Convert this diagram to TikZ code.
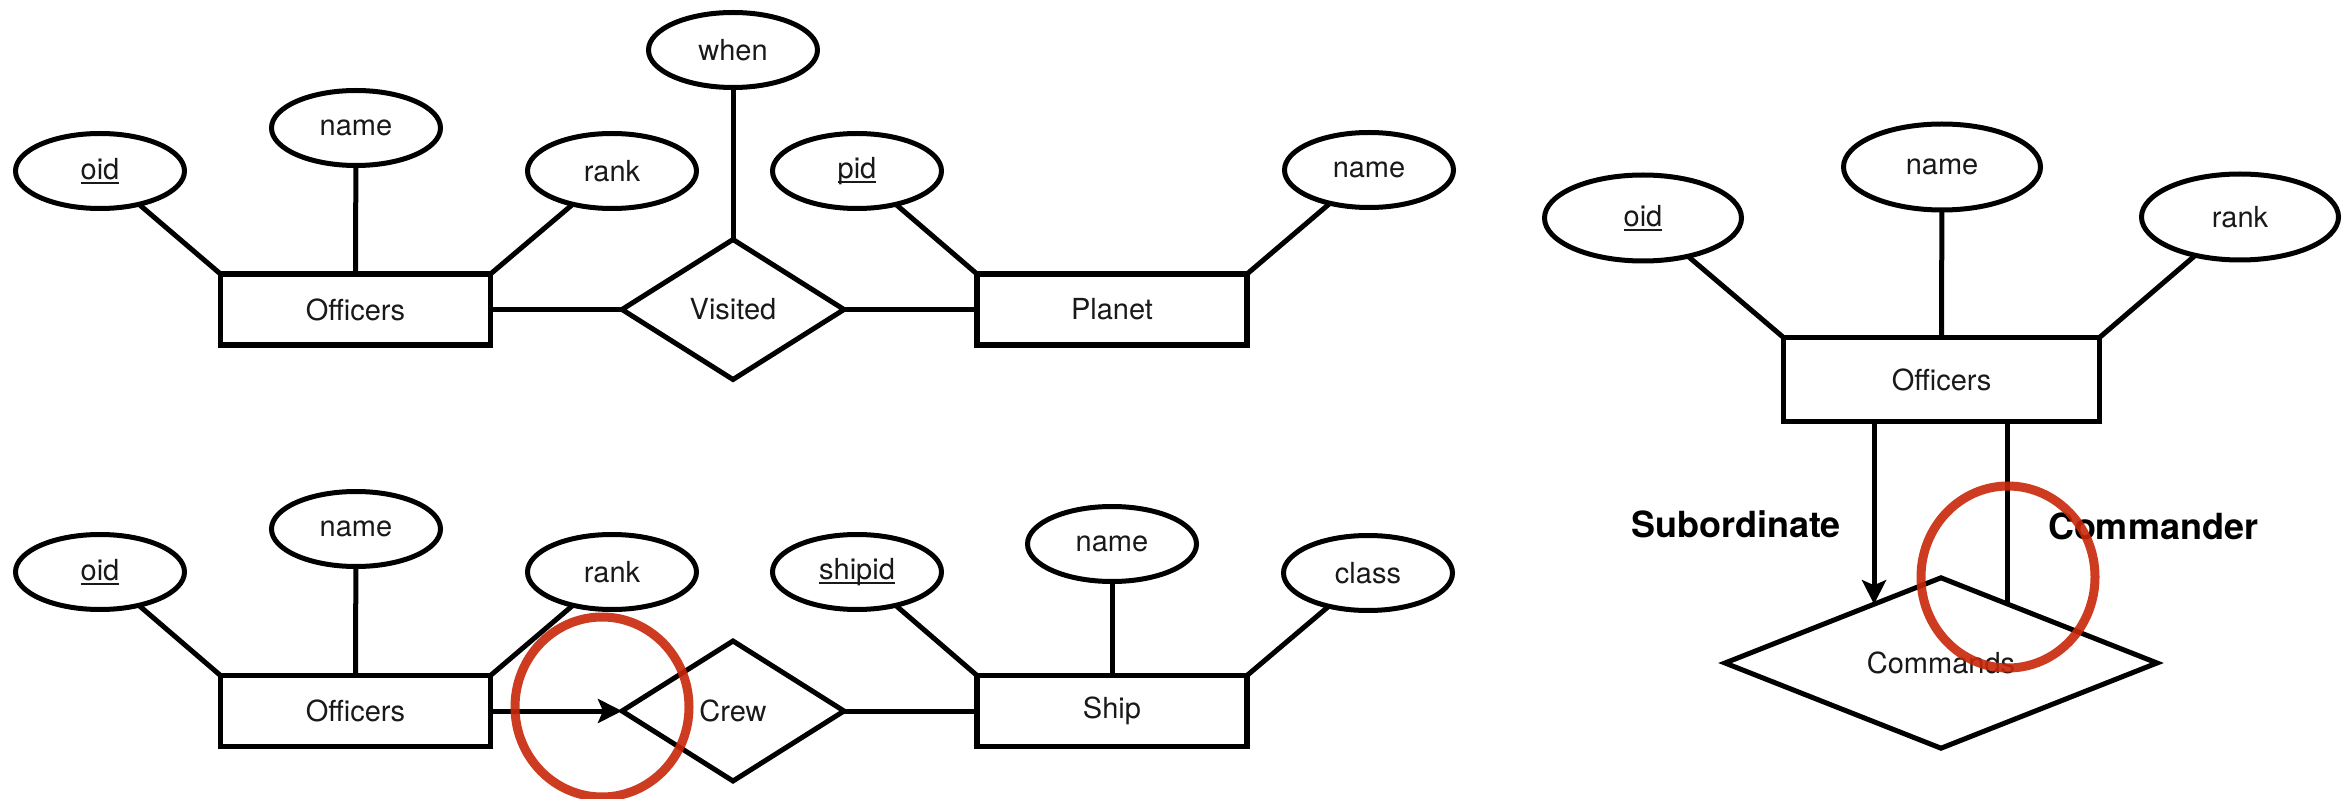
\documentclass[tikz,border=0pt]{standalone}
\usepackage{fontspec}
\setmainfont{TeX Gyre Heros}
\usetikzlibrary{shapes.geometric,arrows.meta,calc}
\definecolor{redcirc}{RGB}{200,38,8}
\newcommand\erfont{\fontsize{29}{34}\selectfont}
\newcommand\erlabelfont{\fontsize{36}{42}\selectfont\bfseries}
\newcommand\keyattr[1]{\setbox0\hbox{#1}\rlap{\rule[-5pt]{\wd0}{2pt}}\box0}
\begin{document}
\begin{tikzpicture}[x=1pt,y=-1pt,
  attr/.style={ellipse,draw,line width=5pt,minimum width=169pt,minimum height=75pt,inner sep=0pt,outer sep=0pt,font=\erfont,text=black!90},
  bigattr/.style={attr,minimum width=197pt,minimum height=86pt},
  entity/.style={rectangle,draw,line width=5.5pt,minimum width=270pt,minimum height=71pt,inner sep=0pt,outer sep=0pt,font=\erfont,text=black!90},
  bigentity/.style={entity,minimum width=316pt,minimum height=84pt},
  rel/.style={diamond,draw,line width=5pt,minimum width=222pt,minimum height=140pt,inner sep=0pt,outer sep=0pt,font=\erfont,text=black!90},
  bigrel/.style={rel,minimum width=432pt,minimum height=160pt},
  conn/.style={line width=5pt},
  arr/.style={conn,-{Stealth[length=24pt,width=24pt,inset=5pt]}},
  rolelabel/.style={font=\erlabelfont,inner sep=0pt},
  redmark/.style={draw=redcirc,line width=9pt,opacity=0.9}
]
\useasboundingbox (0,0) rectangle (2351,799);

% ---------- top: Officers - Visited - Planet ----------
\node[attr] (oidA) at (100,171) {\keyattr{oid}};
\node[attr] (nameA) at (356,128) {name};
\node[attr] (rankA) at (612,171) {rank};
\node[entity] (offA) at (355.5,309.5) {Officers};
\node[rel] (visited) at (733,309.5) {Visited};
\node[attr] (whenA) at (733,50) {when};
\node[entity] (planet) at (1112,309.5) {Planet};
\node[attr] (pidA) at (857,171) {\keyattr{pid}};
\node[attr] (pnameA) at (1369,170) {name};

\draw[conn] (oidA) -- (offA.north west);
\draw[conn] (nameA) -- (offA.north);
\draw[conn] (rankA) -- (offA.north east);
\draw[conn] (offA.east) -- (visited.west);
\draw[conn] (visited.east) -- (planet.west);
\draw[conn] (whenA) -- (visited.north);
\draw[conn] (pidA) -- (planet.north west);
\draw[conn] (pnameA) -- (planet.north east);

% ---------- bottom: Officers - Crew - Ship ----------
\node[attr] (oidB) at (100,572) {\keyattr{oid}};
\node[attr] (nameB) at (356,529) {name};
\node[attr] (rankB) at (612,572) {rank};
\node[entity] (offB) at (355.5,711) {Officers};
\node[rel] (crew) at (733,711) {Crew};
\node[entity] (ship) at (1112,711) {Ship};
\node[attr] (shipidB) at (857,572) {\keyattr{shipid}};
\node[attr] (snameB) at (1112,544) {name};
\node[attr] (classB) at (1368,573) {class};

\draw[conn] (oidB) -- (offB.north west);
\draw[conn] (nameB) -- (offB.north);
\draw[conn] (rankB) -- (offB.north east);
\draw[arr] (offB.east) -- (crew.west);
\draw[conn] (crew.east) -- (ship.west);
\draw[conn] (shipidB) -- (ship.north west);
\draw[conn] (snameB) -- (ship.north);
\draw[conn] (classB) -- (ship.north east);

% ---------- right: Officers - Commands ----------
\node[bigattr] (oidC) at (1643,218) {\keyattr{oid}};
\node[bigattr] (nameC) at (1942,167) {name};
\node[bigattr] (rankC) at (2240,217) {rank};
\node[bigentity] (offC) at (1941.5,379.5) {Officers};
\node[bigrel] (commands) at (1941,663) {Commands};

\draw[conn] (oidC) -- (offC.north west);
\draw[conn] (nameC) -- (offC.north);
\draw[conn] (rankC) -- (offC.north east);

\coordinate (subEnd) at ($(commands.north)!0.31!(commands.west)$);
\coordinate (comEnd) at ($(commands.north)!0.306!(commands.east)$);
\draw[arr] (offC.south -| subEnd) -- (subEnd);
\draw[conn] (offC.south -| comEnd) -- (comEnd);

\node[rolelabel] (sublab) at (1736,524) {Subordinate};
\node[rolelabel] (comlab) at (2153,526) {Commander};

% ---------- red marks ----------
\draw[redmark] (602,707) ellipse [x radius=87pt, y radius=90pt];
\draw[redmark] (2008,577) ellipse [x radius=87pt, y radius=91pt];
\end{tikzpicture}
\end{document}
